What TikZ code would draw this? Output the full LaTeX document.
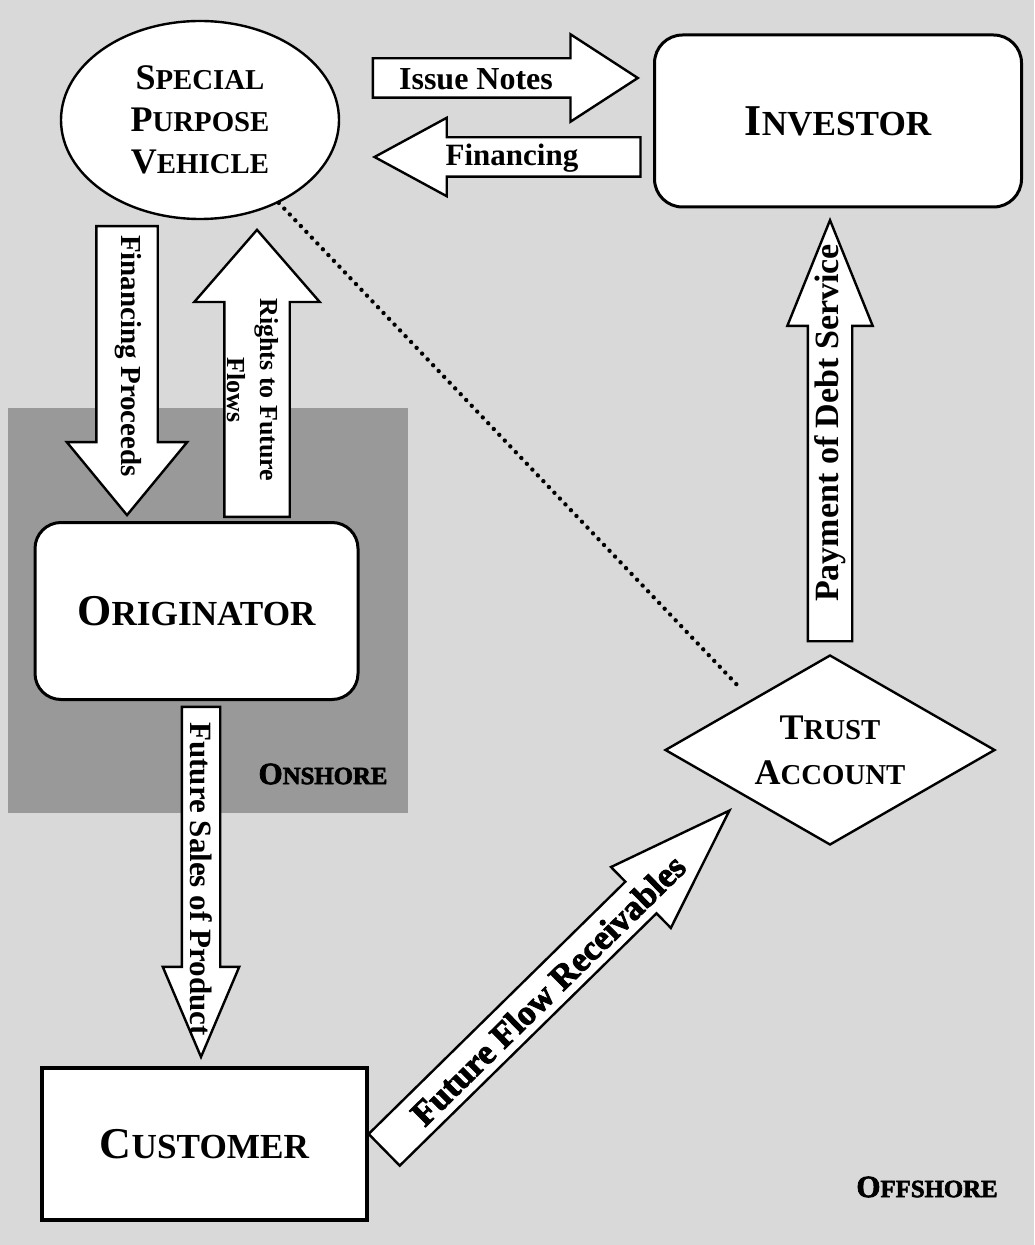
\documentclass[tikz,border=0pt]{standalone}
\usepackage{fontspec}
\setmainfont{Liberation Serif}
\newfontfamily\heavyfont[FakeBold=2.5]{Liberation Serif Bold}
\usepackage{graphicx}
\usepackage{tikz}
\usetikzlibrary{shapes.geometric,shapes.arrows}
\newcommand{\capsword}[2]{#1\scalebox{0.8}{#2}}

\begin{document}
\begin{tikzpicture}[x=0.5pt,y=-0.5pt,
  box/.style={draw, line width=1.5pt, fill=white, align=center, inner sep=0pt, font=\fontsize{22}{26}\selectfont\bfseries},
  flow/.style={single arrow, draw, line width=1.2pt, fill=white, inner xsep=0pt, anchor=tip},
  flowtext/.style={inner sep=0pt, align=center, font=\fontsize{#1}{#1}\selectfont\bfseries}]

 \fill[black!15] (0,0) rectangle (1034,1245);
 \fill[black!40] (8,408) rectangle (408,813);
 \useasboundingbox (0,0) rectangle (1034,1245);

 \node[box, ellipse, line width=1.2pt, minimum width=139pt, minimum height=99pt, font=\fontsize{18}{21}\selectfont\bfseries] (spv) at (200,120) {\capsword{S}{PECIAL}\\\capsword{P}{URPOSE}\\\capsword{V}{EHICLE}};
 \node[box, rounded corners=14pt, minimum width=183.5pt, minimum height=86pt] (inv) at (838,121) {\capsword{I}{NVESTOR}};
 \node[box, rounded corners=13pt, minimum width=161.5pt, minimum height=88.5pt] (orig) at (196.5,611) {\capsword{O}{RIGINATOR}};
 \node[box, line width=1.8pt, minimum width=162.5pt, minimum height=76pt] (cust) at (204.5,1144) {\capsword{C}{USTOMER}};
 \node[box, diamond, aspect=1.74, line width=1.2pt, minimum width=165pt, minimum height=95pt, font=\fontsize{18}{22.5}\selectfont\bfseries] (trust) at (830,750) {\capsword{T}{RUST}\\\capsword{A}{CCOUNT}};

 \coordinate (dotend) at (740,688);
 \draw[line width=2.2pt, line cap=round, dash pattern=on 0pt off 4pt] (spv) -- (dotend);

 \node[flow, minimum height=132.5pt, inner ysep=9.25pt, single arrow head extend=12pt, single arrow tip angle=66] (issue) at (640,78) {};
 \node[flow, rotate=180, minimum height=133pt, inner ysep=9.25pt, single arrow head extend=9.75pt, single arrow tip angle=57] (fin) at (372,157) {};
 \node[flow, rotate=-90, minimum height=144.5pt, inner ysep=14.75pt, single arrow head extend=14.75pt, single arrow tip angle=79] (proceeds) at (127,517) {};
 \node[flow, rotate=90, minimum height=143.5pt, inner ysep=15.75pt, single arrow head extend=15pt, single arrow tip angle=82] (rights) at (257,228) {};
 \node[flow, rotate=-90, minimum height=175pt, inner ysep=9pt, single arrow head extend=9.5pt, single arrow tip angle=46] (sales) at (201,1060) {};
 \node[flow, rotate=90, minimum height=210.5pt, inner ysep=10.5pt, single arrow head extend=10.25pt, single arrow tip angle=44] (pay) at (830,217) {};
 \node[flow, rotate=44.5, minimum height=242pt, inner ysep=10.5pt, single arrow head extend=10.25pt, single arrow tip angle=38] (receiv) at (732,808) {};

 \node[flowtext=16] (issuetext) at (476,79) {Issue Notes};
 \node[flowtext=15.5] (fintext) at (512,158) {Financing};
 \node[flowtext=14.5, rotate=-90] (proceedstext) at (128,356) {Financing Proceeds};
 \node[flowtext=13, rotate=-90, font=\fontsize{13}{16.5}\selectfont\bfseries] (rightstext) at (253,390) {Rights to Future\\Flows};
 \node[flowtext=15.5, rotate=-90] (salestext) at (201,879) {Future Sales of Product};
 \node[flowtext=17, rotate=90] (paytext) at (830,423) {Payment of Debt Service};
 \node[inner sep=0pt, rotate=44.5, font=\fontsize{17.5}{17.5}\heavyfont] (receivtext) at (548,990) {Future Flow Receivables};

 \node[inner sep=0pt, font=\fontsize{15.5}{16}\heavyfont] (onshore) at (323,774) {\capsword{O}{NSHORE}};
 \node[inner sep=0pt, font=\fontsize{15.5}{16}\heavyfont] (offshore) at (927,1187) {\capsword{O}{FFSHORE}};

\end{tikzpicture}
\end{document}
